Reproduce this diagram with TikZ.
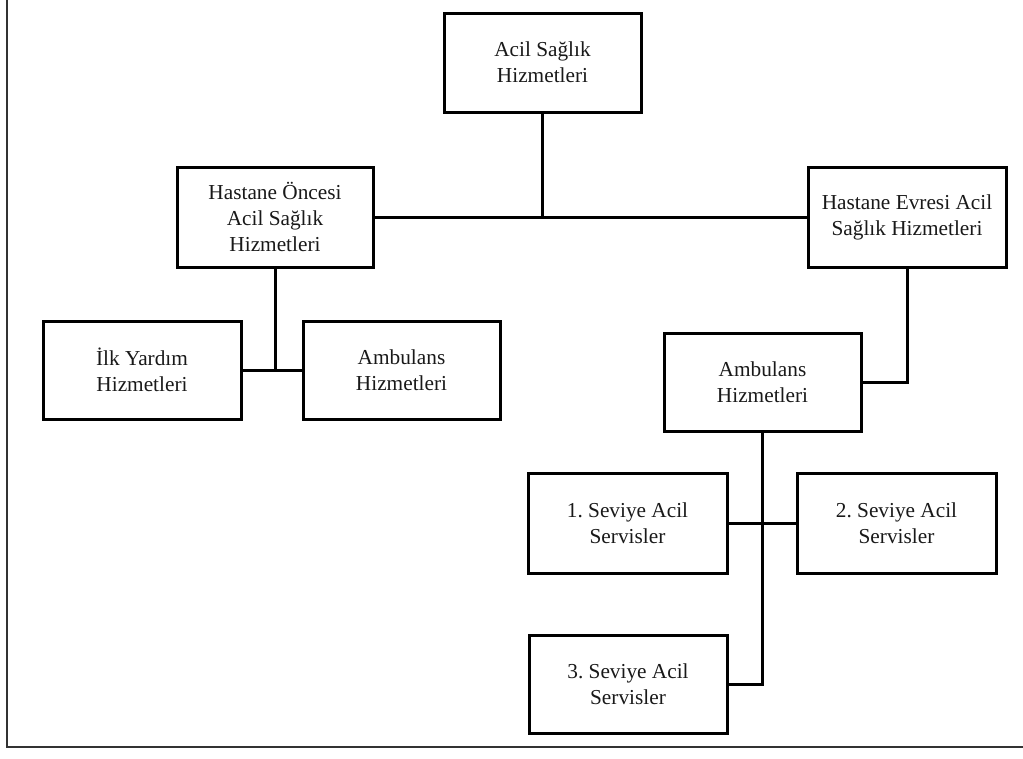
\documentclass[tikz,border=0pt]{standalone}
\usepackage{fontspec}
\setmainfont{Liberation Serif}
\frenchspacing
\begin{document}
\begin{tikzpicture}[x=1pt,y=-1pt,
  box/.style={draw=black,line width=3pt,rectangle,inner sep=0pt,align=center,
    minimum width=197pt,minimum height=99pt,text=black!90,
    font=\fontsize{21.3}{26}\selectfont},
  link/.style={draw=black,line width=3pt},
  frame/.style={draw=black!80,line width=2pt}]
\useasboundingbox (0,0) rectangle (1023,758);
\coordinate (ftop) at (7,0);
\coordinate (fcorner) at (7,747);
\coordinate (fright) at (1023,747);
\draw[frame] (ftop) -- (fcorner) -- (fright);

\node[box] (top) at (542.5,62.5) {Acil Sağlık\\Hizmetleri};
\node[box,minimum width=196pt,minimum height=100pt] (onc) at (275,217) {Hastane Öncesi\\Acil Sağlık\\Hizmetleri};
\node[box,minimum width=198pt,minimum height=100pt] (evr) at (907,217) {Hastane Evresi Acil\\Sağlık Hizmetleri};
\node[box,minimum width=198pt,minimum height=98pt] (ilk) at (142,370) {İlk Yardım\\Hizmetleri};
\node[box,minimum height=98pt] (amb1) at (401.5,370) {Ambulans\\Hizmetleri};
\node[box,minimum height=98pt] (amb2) at (762.5,382) {Ambulans\\Hizmetleri};
\node[box,minimum width=199pt,minimum height=100pt] (s1) at (627.5,523.5) {1.\ Seviye Acil\\Servisler};
\node[box,minimum width=199pt,minimum height=100pt] (s2) at (896.5,523.5) {2.\ Seviye Acil\\Servisler};
\node[box,minimum width=198pt,minimum height=98pt] (s3) at (628,684) {3.\ Seviye Acil\\Servisler};

\draw[link] (onc.east) -- (evr.west);
\draw[link] (top.south) -- (top.south |- onc.east);
\draw[link] (onc.south) -- (onc.south |- ilk.east);
\draw[link] (ilk.east) -- (amb1.west);
\draw[link] (evr.south) |- (amb2.east);
\draw[link] (amb2.south) |- (s3.east);
\draw[link] (s1.east) -- (s2.west);
\end{tikzpicture}
\end{document}
